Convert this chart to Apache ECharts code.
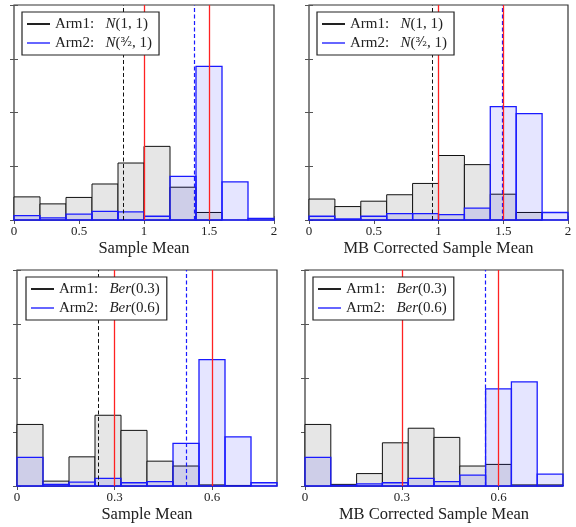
<!DOCTYPE html>
<html>
<head>
<meta charset="utf-8">
<script src="https://cdn.jsdelivr.net/npm/echarts@6/dist/echarts.min.js"></script>
<style>
  html, body { margin: 0; padding: 0; background: #fff; }
  #chart { width: 576px; height: 527px; }
</style>
</head>
<body>
<div id="chart"></div>
<script>
// histogram bins (left edges follow from start + i * width)
const normBinStart = 0, normBinWidth = 0.2;
const berBinStart = 0, berBinWidth = 0.08;

// top row: N(1,1) vs N(3/2,1)
const normArm1Sample = [0.43, 0.30, 0.42, 0.67, 1.06, 1.37, 0.61, 0.14, 0, 0];
const normArm2Sample = [0.08, 0.04, 0.11, 0.16, 0.15, 0.07, 0.81, 2.86, 0.71, 0.03];
const normArm1Corr   = [0.39, 0.25, 0.35, 0.47, 0.68, 1.20, 1.03, 0.48, 0.14, 0];
const normArm2Corr   = [0.07, 0.02, 0.07, 0.12, 0.12, 0.10, 0.22, 2.11, 1.98, 0.14];

// bottom row: Ber(0.3) vs Ber(0.6)
const berArm1Sample = [1.14, 0.09, 0.54, 1.31, 1.03, 0.46, 0.37, 0.02, 0.01, 0];
const berArm2Sample = [0.53, 0.03, 0.07, 0.14, 0.06, 0.08, 0.79, 2.34, 0.91, 0.06];
const berArm1Corr   = [1.14, 0.03, 0.23, 0.80, 1.07, 0.90, 0.37, 0.40, 0.02, 0.02];
const berArm2Corr   = [0.53, 0.01, 0.04, 0.06, 0.14, 0.08, 0.20, 1.80, 1.93, 0.22];

// vertical lines: [arm1 mean, arm2 mean], true means
const meansNormSample = [0.836, 1.39];
const meansNormCorr   = [0.95, 1.49];
const meansBerSample  = [0.25, 0.518];
const meansBerCorr    = [0.299, 0.556];
const trueNorm = [1, 1.5];
const trueBer  = [0.3, 0.6];

const normTicks = [0, 0.5, 1, 1.5, 2];
const berTicks  = [0, 0.3, 0.6];

const serif = 'Liberation Serif';

const chart = echarts.init(document.getElementById('chart'));

function histItem(binW, fill, stroke, lw) {
  return function (params, api) {
    const x0 = api.value(0), h = api.value(1);
    if (!h) return;
    const p0 = api.coord([x0, 0]);
    const p1 = api.coord([x0 + binW, h]);
    return {
      type: 'rect',
      shape: { x: p0[0], y: p1[1], width: p1[0] - p0[0], height: p0[1] - p1[1] },
      style: { fill: fill, stroke: stroke, lineWidth: lw }
    };
  };
}

function toBins(start, w, vals) {
  return vals.map((v, i) => [start + i * w, v]);
}

const panels = [
  { grid: { left: 14, top: 5, width: 260, height: 215 }, max: 2, ticks: normTicks,
    start: normBinStart, w: normBinWidth, a1: normArm1Sample, a2: normArm2Sample,
    means: meansNormSample, truth: trueNorm, name: 'Sample Mean', kind: 'N',
    legend: { left: 22, top: 12 } },
  { grid: { left: 309, top: 5, width: 259, height: 215 }, max: 2, ticks: normTicks,
    start: normBinStart, w: normBinWidth, a1: normArm1Corr, a2: normArm2Corr,
    means: meansNormCorr, truth: trueNorm, name: 'MB Corrected Sample Mean', kind: 'N',
    legend: { left: 317, top: 12 } },
  { grid: { left: 17, top: 270, width: 260, height: 216 }, max: 0.8, ticks: berTicks,
    start: berBinStart, w: berBinWidth, a1: berArm1Sample, a2: berArm2Sample,
    means: meansBerSample, truth: trueBer, name: 'Sample Mean', kind: 'B',
    legend: { left: 26, top: 277 } },
  { grid: { left: 305, top: 270, width: 258, height: 216 }, max: 0.8, ticks: berTicks,
    start: berBinStart, w: berBinWidth, a1: berArm1Corr, a2: berArm2Corr,
    means: meansBerCorr, truth: trueBer, name: 'MB Corrected Sample Mean', kind: 'B',
    legend: { left: 313, top: 277 } }
];

const grids = [], xAxes = [], yAxes = [], series = [], legends = [];
const tickStyle = { show: true, inside: true, length: 4, lineStyle: { color: '#555', width: 1 } };

panels.forEach((p, g) => {
  grids.push(Object.assign({ show: true, borderColor: '#333', borderWidth: 1.2, backgroundColor: '#fff' }, p.grid));
  xAxes.push({
    gridIndex: g, type: 'value', min: 0, max: p.max, position: 'bottom',
    name: p.name, nameLocation: 'middle', nameGap: 20,
    nameTextStyle: { fontFamily: serif, fontSize: 16.5, color: '#222' },
    axisLine: { show: false }, splitLine: { show: false },
    axisTick: Object.assign({ customValues: p.ticks }, tickStyle),
    axisLabel: { customValues: p.ticks, fontFamily: serif, fontSize: 13, color: '#222', margin: 5 }
  });
  xAxes.push({
    gridIndex: g, type: 'value', min: 0, max: p.max, position: 'top',
    axisLine: { show: false }, splitLine: { show: false }, axisLabel: { show: false },
    axisTick: Object.assign({ customValues: p.ticks }, tickStyle)
  });
  yAxes.push({
    gridIndex: g, type: 'value', min: 0, max: 4, interval: 1, position: 'left',
    axisLine: { show: false }, splitLine: { show: false }, axisLabel: { show: false },
    axisTick: tickStyle
  });
  yAxes.push({
    gridIndex: g, type: 'value', min: 0, max: 4, interval: 1, position: 'right',
    axisLine: { show: false }, splitLine: { show: false }, axisLabel: { show: false },
    axisTick: tickStyle
  });

  const n1 = 'Arm1' + p.kind, n2 = 'Arm2' + p.kind;
  series.push({
    type: 'custom', name: n1, xAxisIndex: 2 * g, yAxisIndex: 2 * g,
    renderItem: histItem(p.w, '#e6e6e6', '#111', 1),
    itemStyle: { color: '#222' },
    encode: { x: 0, y: 1 },
    data: toBins(p.start, p.w, p.a1)
  });
  series.push({
    type: 'custom', name: n2, xAxisIndex: 2 * g, yAxisIndex: 2 * g,
    renderItem: histItem(p.w, 'rgba(0,0,255,0.1)', '#1a1aff', 1.3),
    itemStyle: { color: '#55f' },
    encode: { x: 0, y: 1 },
    data: toBins(p.start, p.w, p.a2),
    markLine: {
      silent: true, symbol: 'none', label: { show: false },
      data: [
        { xAxis: p.means[0], lineStyle: { color: '#111', type: [4, 2.5], width: 1 } },
        { xAxis: p.means[1], lineStyle: { color: '#1a1aff', type: [4, 2.5], width: 1.2 } },
        { xAxis: p.truth[0], lineStyle: { color: '#f22', type: 'solid', width: 1.3 } },
        { xAxis: p.truth[1], lineStyle: { color: '#f22', type: 'solid', width: 1.3 } }
      ]
    }
  });

  legends.push({
    left: p.legend.left, top: p.legend.top, orient: 'vertical', z: 50, zlevel: 1,
    data: [
      { name: n1, icon: 'rect', itemStyle: { color: '#222' } },
      { name: n2, icon: 'rect', itemStyle: { color: '#66f' } }
    ],
    itemWidth: 23, itemHeight: 2, itemGap: 1, selectedMode: false,
    backgroundColor: '#fff', borderColor: '#222', borderWidth: 1.2, borderRadius: 0,
    padding: [3, 7, 3, 5],
    textStyle: {
      fontFamily: serif, fontSize: 15, color: '#222', lineHeight: 18,
      rich: {
        t: { fontFamily: serif, fontSize: 15, color: '#222' },
        m: { fontFamily: serif, fontSize: 15, fontStyle: 'italic', color: '#222' },
        f: { fontFamily: 'DejaVu Serif', fontSize: 12, color: '#222' }
      }
    },
    formatter: function (name) {
      if (name === 'Arm1N') return '{t|Arm1:   }{m|N}{t|(1, 1)}';
      if (name === 'Arm2N') return '{t|Arm2:   }{m|N}{t|(}{f|³⁄₂}{t|, 1)}';
      if (name === 'Arm1B') return '{t|Arm1:   }{m|Ber}{t|(0.3)}';
      return '{t|Arm2:   }{m|Ber}{t|(0.6)}';
    }
  });
});

chart.setOption({
  animation: false,
  backgroundColor: '#fff',
  grid: grids,
  xAxis: xAxes,
  yAxis: yAxes,
  legend: legends,
  series: series
});
</script>
</body>
</html>
